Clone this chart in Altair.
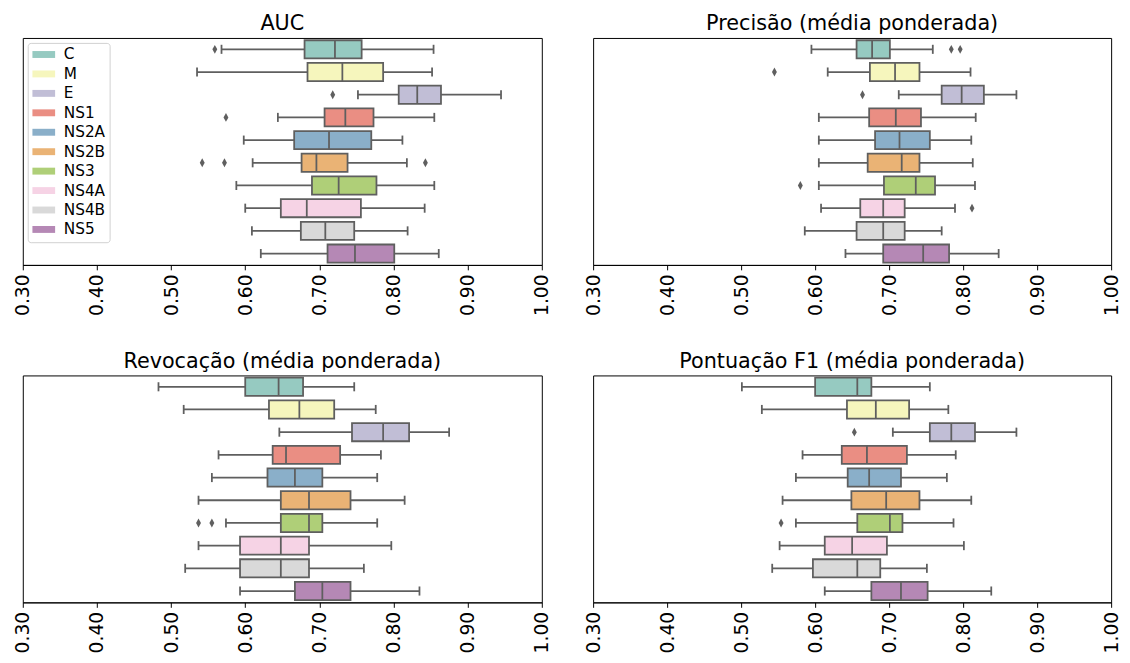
import altair as alt
import pandas as pd

CATS = ["C", "M", "E", "NS1", "NS2A", "NS2B", "NS3", "NS4A", "NS4B", "NS5"]
COLORS = ["#96cac1", "#f6f6bd", "#c1bed6", "#ea8e83", "#8aafc9",
          "#eab375", "#afcf78", "#f6d3e5", "#d9d9d9", "#b588b5"]
TICKS = [0.3, 0.4, 0.5, 0.6, 0.7, 0.8, 0.9, 1.0]

TITLES = ["AUC", "Precisão (média ponderada)",
          "Revocação (média ponderada)", "Pontuação F1 (média ponderada)"]

# AUC
auc_lo = [0.568, 0.535, 0.752, 0.644, 0.598, 0.610, 0.588, 0.600, 0.609, 0.621]
auc_q1 = [0.680, 0.684, 0.807, 0.707, 0.666, 0.676, 0.690, 0.648, 0.675, 0.711]
auc_med = [0.721, 0.731, 0.832, 0.735, 0.713, 0.696, 0.726, 0.683, 0.708, 0.748]
auc_q3 = [0.757, 0.786, 0.864, 0.773, 0.770, 0.738, 0.777, 0.756, 0.747, 0.801]
auc_hi = [0.854, 0.852, 0.945, 0.855, 0.812, 0.818, 0.855, 0.842, 0.819, 0.861]
auc_out_cat = ["C", "E", "NS1", "NS2B", "NS2B", "NS2B"]
auc_out_val = [0.559, 0.718, 0.574, 0.542, 0.572, 0.843]

# Precisão
pre_lo = [0.595, 0.617, 0.713, 0.605, 0.605, 0.605, 0.605, 0.608, 0.586, 0.641]
pre_q1 = [0.656, 0.674, 0.771, 0.673, 0.681, 0.671, 0.693, 0.661, 0.656, 0.692]
pre_med = [0.677, 0.708, 0.798, 0.709, 0.714, 0.717, 0.736, 0.692, 0.692, 0.746]
pre_q3 = [0.701, 0.741, 0.828, 0.743, 0.755, 0.741, 0.762, 0.721, 0.721, 0.781]
pre_hi = [0.759, 0.810, 0.872, 0.817, 0.811, 0.813, 0.816, 0.789, 0.771, 0.848]
pre_out_cat = ["C", "C", "M", "E", "NS3", "NS4A"]
pre_out_val = [0.784, 0.796, 0.545, 0.664, 0.580, 0.812]

# Revocação
rec_lo = [0.483, 0.517, 0.646, 0.564, 0.555, 0.537, 0.574, 0.537, 0.519, 0.593]
rec_q1 = [0.600, 0.632, 0.744, 0.637, 0.630, 0.648, 0.648, 0.593, 0.593, 0.667]
rec_med = [0.645, 0.673, 0.786, 0.655, 0.667, 0.686, 0.686, 0.648, 0.648, 0.704]
rec_q3 = [0.678, 0.720, 0.821, 0.728, 0.704, 0.742, 0.704, 0.686, 0.686, 0.742]
rec_hi = [0.747, 0.776, 0.875, 0.783, 0.778, 0.815, 0.778, 0.797, 0.760, 0.835]
rec_out_cat = ["NS3", "NS3"]
rec_out_val = [0.537, 0.555]

# F1
f1_lo = [0.501, 0.528, 0.705, 0.583, 0.574, 0.556, 0.574, 0.552, 0.542, 0.613]
f1_q1 = [0.600, 0.643, 0.755, 0.636, 0.644, 0.649, 0.657, 0.613, 0.597, 0.676]
f1_med = [0.657, 0.682, 0.784, 0.670, 0.673, 0.696, 0.701, 0.650, 0.657, 0.716]
f1_q3 = [0.676, 0.727, 0.816, 0.724, 0.716, 0.741, 0.718, 0.697, 0.688, 0.752]
f1_hi = [0.755, 0.780, 0.872, 0.790, 0.778, 0.811, 0.787, 0.801, 0.751, 0.838]
f1_out_cat = ["E", "NS3"]
f1_out_val = [0.653, 0.554]

GRAY = "#5f5f5f"
LW = 1.8
FONT = "DejaVu Sans"
DIAMOND = "M0,-1L0.55,0L0,1L-0.55,0Z"
PATCH = "M-1.643,-0.5L1.643,-0.5L1.643,0.5L-1.643,0.5Z"

xscale = alt.Scale(domain=[0.3, 1.0], nice=False, zero=False)
yscale = alt.Scale(domain=CATS, paddingInner=0.2, paddingOuter=0.1)
xaxis = alt.Axis(values=TICKS, format=".2f", labelAngle=-90, title=None, grid=False)


def panel(title, lo, q1, med, q3, hi, out_cat, out_val, width, legend):
    stats = pd.DataFrame({"cat": CATS, "lo": lo, "q1": q1, "med": med,
                          "q3": q3, "hi": hi})
    outs = pd.DataFrame({"cat": out_cat, "val": out_val})
    base = alt.Chart(stats)
    y = alt.Y("cat:N", scale=yscale, axis=None, sort=CATS)
    whisk = base.mark_rule(color=GRAY, strokeWidth=LW).encode(
        x=alt.X("lo:Q", scale=xscale, axis=xaxis), x2="hi:Q", y=y)
    caps = base.transform_fold(["lo", "hi"], as_=["k", "v"]).mark_tick(
        color=GRAY, thickness=LW, size=9.2, opacity=1).encode(
        x=alt.X("v:Q", scale=xscale, axis=xaxis), y=y)
    box = base.mark_bar(stroke=GRAY, strokeWidth=LW, opacity=1).encode(
        x=alt.X("q1:Q", scale=xscale, axis=xaxis), x2="q3:Q", y=y,
        color=alt.Color("cat:N", scale=alt.Scale(domain=CATS, range=COLORS),
                        sort=CATS, legend=legend))
    medt = base.mark_tick(color=GRAY, thickness=LW, size=18.4, opacity=1).encode(
        x=alt.X("med:Q", scale=xscale, axis=xaxis), y=y)
    pts = alt.Chart(outs).mark_point(shape=DIAMOND, filled=True, color=GRAY,
                                     size=81, opacity=1, strokeWidth=0).encode(
        x=alt.X("val:Q", scale=xscale, axis=xaxis), y=y)
    return alt.layer(whisk, caps, box, medt, pts).properties(
        width=width, height=230, title=title)


leg = alt.Legend(title=None, orient="none", legendX=5, legendY=5,
                 symbolType=PATCH, symbolSize=196, symbolStrokeWidth=0,
                 labelFontSize=15.5, labelFont=FONT, labelColor="black",
                 rowPadding=2.7, padding=4, strokeColor="#d0d0d0",
                 cornerRadius=3, fillColor="white", symbolOffset=4.5,
                 labelOffset=12.5)

p1 = panel(TITLES[0], auc_lo, auc_q1, auc_med, auc_q3, auc_hi,
           auc_out_cat, auc_out_val, 526, leg)
p2 = panel(TITLES[1], pre_lo, pre_q1, pre_med, pre_q3, pre_hi,
           pre_out_cat, pre_out_val, 525, None)
p3 = panel(TITLES[2], rec_lo, rec_q1, rec_med, rec_q3, rec_hi,
           rec_out_cat, rec_out_val, 526, None)
p4 = panel(TITLES[3], f1_lo, f1_q1, f1_med, f1_q3, f1_hi,
           f1_out_cat, f1_out_val, 525, None)

top = alt.hconcat(p1, p2, spacing=31).resolve_scale(color="independent").resolve_legend(color="independent")
bottom = alt.hconcat(p3, p4, spacing=31).resolve_scale(color="independent").resolve_legend(color="independent")

chart = alt.vconcat(top, bottom, spacing=34).resolve_scale(
    color="independent").resolve_legend(color="independent").properties(
    padding={"left": 5, "top": 0, "right": 0, "bottom": 0},
    background="white"
).configure_view(
    stroke="black", strokeWidth=1
).configure_axis(
    labelFont=FONT, labelFontSize=19, labelColor="black",
    tickColor="black", domainColor="black", tickSize=5, tickWidth=1,
    domainWidth=1, labelPadding=4
).configure_title(
    font=FONT, fontSize=21, fontWeight="normal", color="black",
    anchor="middle", offset=4
)

chart.save("out.html", embed_options={"renderer": "svg", "actions": False})
